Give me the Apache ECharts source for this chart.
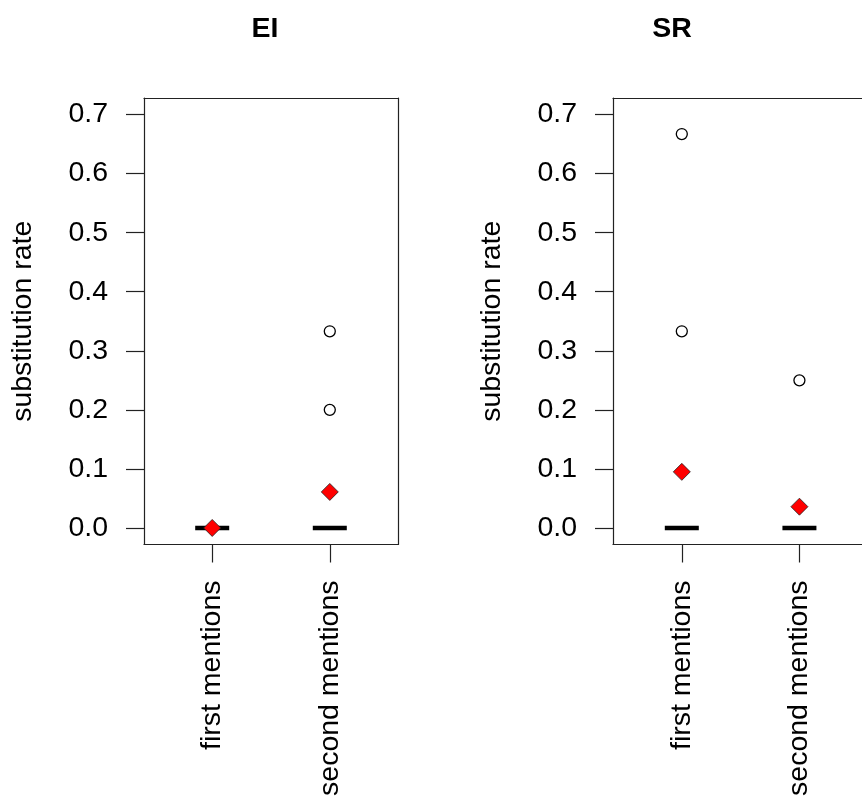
<!DOCTYPE html>
<html>
<head>
<meta charset="utf-8">
<script src="https://cdn.jsdelivr.net/npm/echarts@6/dist/echarts.min.js"></script>
<style>
html,body{margin:0;padding:0;background:#fff;}
#c{width:862px;height:796px;}
</style>
</head>
<body>
<div id="c"></div>
<script>
// ---- data ----
var panelTitles = ['EI', 'SR'];
var categories = ['first mentions', 'second mentions'];
var yTicks = [0.0, 0.1, 0.2, 0.3, 0.4, 0.5, 0.6, 0.7];
var eiMedians = [0, 0];
var srMedians = [0, 0];
var eiMeans = [0.0, 0.061];
var srMeans = [0.095, 0.036];
var eiOutliersFirst = [];
var eiOutliersSecond = [0.333, 0.2];
var srOutliersFirst = [0.667, 0.333];
var srOutliersSecond = [0.25];

// ---- build ----
var FONT = "'Liberation Sans', Arial, sans-serif";
var FS = 28.5;
var AX = '#222';
var LW = 1.2;
var YMIN = -0.028, YMAX = 0.728;
// panel 2's plot box runs past the right edge of the page, so its visible part is laid out
var panels = [
  {medians: eiMedians, means: eiMeans, outs: [eiOutliersFirst, eiOutliersSecond],
   left: 144, width: 254, xmin: 0.42, xmax: 2.58, rightEdge: true},
  {medians: srMedians, means: srMeans, outs: [srOutliersFirst, srOutliersSecond],
   left: 613, width: 249, xmin: 0.415, xmax: 2.532, rightEdge: false}
];
var grids = [], xAxes = [], yAxes = [], series = [], titles = [];
var titleX = [260, 667];
function frameAxis(gi, pos, mn, mx) {
  return {type: 'value', gridIndex: gi, position: pos, min: mn, max: mx,
    axisLine: {show: true, onZero: false, lineStyle: {color: AX, width: LW}},
    axisTick: {show: false}, axisLabel: {show: false}, splitLine: {show: false}};
}
panels.forEach(function (p, i) {
  grids.push({left: p.left, top: 98, width: p.width, height: 446.5, show: false,
    containLabel: false, outerBoundsMode: 'none'});
  xAxes.push({type: 'value', gridIndex: i, min: p.xmin, max: p.xmax, position: 'bottom',
    axisLine: {show: true, onZero: false, lineStyle: {color: AX, width: LW}}, splitLine: {show: false},
    axisTick: {show: true, length: 18, lineStyle: {color: AX, width: LW}, customValues: [1, 2]},
    axisLabel: {show: true, rotate: 90, margin: 36, fontSize: FS, fontFamily: FONT, color: '#000',
      customValues: [1, 2],
      formatter: function (v) { return categories[Math.round(v) - 1]; }}
  });
  yAxes.push({type: 'value', gridIndex: i, min: YMIN, max: YMAX, position: 'left',
    name: 'substitution rate', nameLocation: 'middle', nameGap: 106, nameRotate: 90,
    nameTextStyle: {fontSize: FS, fontFamily: FONT, color: '#000'},
    axisLine: {show: true, onZero: false, lineStyle: {color: AX, width: LW}}, splitLine: {show: false},
    axisTick: {show: true, length: 18, lineStyle: {color: AX, width: LW}, customValues: yTicks},
    axisLabel: {show: true, margin: 36, fontSize: FS, fontFamily: FONT, color: '#000',
      customValues: yTicks, formatter: function (v) { return v.toFixed(1); }}
  });
  titles.push({text: panelTitles[i], left: titleX[i], top: 10, textAlign: 'center',
    textStyle: {fontSize: FS, fontWeight: 'bold', fontFamily: FONT, color: '#000'}});
});
// top / right edges of the plot boxes
panels.forEach(function (p, i) {
  xAxes.push(frameAxis(i, 'top', p.xmin, p.xmax));
  if (p.rightEdge) yAxes.push(frameAxis(i, 'right', YMIN, YMAX));
});
panels.forEach(function (p, i) {
  // medians
  series.push({type: 'scatter', xAxisIndex: i, yAxisIndex: i, symbol: 'rect', symbolSize: [34, 4.5],
    itemStyle: {color: '#000', opacity: 1}, silent: true, z: 2,
    data: p.medians.map(function (m, k) { return [k + 1, m]; })});
  // outliers
  var outData = [];
  p.outs.forEach(function (arr, k) { arr.forEach(function (v) { outData.push([k + 1, v]); }); });
  series.push({type: 'scatter', xAxisIndex: i, yAxisIndex: i, symbol: 'circle', symbolSize: 11,
    itemStyle: {color: '#fff', borderColor: '#000', borderWidth: 1.3, opacity: 1}, silent: true, z: 3,
    data: outData});
  // means
  series.push({type: 'scatter', xAxisIndex: i, yAxisIndex: i, symbol: 'diamond', symbolSize: 17,
    itemStyle: {color: '#ff0000', borderColor: '#222', borderWidth: 0.8, opacity: 1}, silent: true, z: 4,
    data: p.means.map(function (m, k) { return [k + 1, m]; })});
});

var chart = echarts.init(document.getElementById('c'), null, {renderer: 'canvas'});
chart.setOption({
  animation: false,
  backgroundColor: '#fff',
  title: titles,
  grid: grids,
  xAxis: xAxes,
  yAxis: yAxes,
  series: series
});
</script>
</body>
</html>
